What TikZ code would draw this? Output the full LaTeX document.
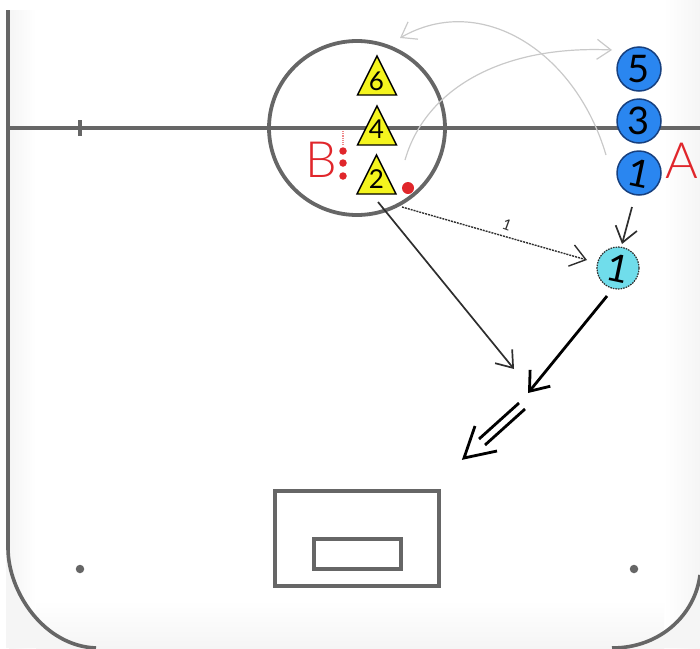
\documentclass[tikz,border=0pt]{standalone}
\usepackage{fontspec}
\setmainfont{Lato}
\newfontfamily\lightface{Lato Light}
\usetikzlibrary{arrows.meta}
\definecolor{linegray}{HTML}{666666}
\definecolor{arcgray}{HTML}{C9C9C9}
\definecolor{ink}{HTML}{2E2E2E}
\definecolor{hred}{HTML}{E0262B}
\definecolor{pblue}{HTML}{2A86F0}
\definecolor{pedge}{HTML}{17407F}
\definecolor{pcyan}{HTML}{70DDEB}
\definecolor{tyellow}{HTML}{F4F41E}
\definecolor{haze}{HTML}{F5F5F5}
\tikzset{
  rink/.style={draw=linegray,line width=3.6pt},
  goalbox/.style={draw=linegray,line width=3.4pt,inner sep=0pt},
  player/.style={circle,draw=pedge,line width=1.5pt,fill=pblue,minimum size=44pt,inner sep=0pt,text=black},
  skater/.style={circle,draw=ink,dash pattern=on 1.6pt off 1pt,line width=1.2pt,fill=pcyan,minimum size=42pt,inner sep=0pt,text=black},
  tri/.style={draw=black,line width=1.4pt,fill=tyellow,line join=miter},
  trinum/.style={inner sep=0pt,font=\fontsize{26}{26}\selectfont,text=black},
  pnum/.style={font=\fontsize{38}{38}\selectfont},
  hand/.style={inner sep=0pt,text=hred,font=\lightface\fontsize{50}{50}\selectfont},
  puck/.style={circle,fill=hred,inner sep=0pt},
  post/.style={circle,fill=linegray,inner sep=0pt,minimum size=8.5pt},
  skatearc/.style={draw=arcgray,line width=1.2pt,-{Straight Barb[length=14pt,width=20pt,line width=1.2pt]}},
  pass/.style={draw=ink,line width=1.7pt,-{Straight Barb[length=15pt,width=22pt]}},
  dotpass/.style={draw=ink,line width=1.4pt,dash pattern=on 2pt off 1pt,-{Straight Barb[length=15pt,width=22pt,line width=1.4pt]}},
  shot/.style={draw=black,line width=2.8pt,-{Straight Barb[length=17pt,width=26pt]}},
  shotline/.style={draw=black,line width=2.8pt,line join=miter},
}
\begin{document}
\begin{tikzpicture}[x=1pt,y=-1pt]
\useasboundingbox (0,0) rectangle (700,648);
% faint haze at the rink edges
\shade[left color=haze,right color=white] (9,10) rectangle (36,648);
\shade[left color=white,right color=haze] (664,0) rectangle (700,648);
\shade[top color=white,bottom color=haze] (36,600) rectangle (664,648);
\fill[haze] (8,548) .. controls (8,592) and (44,646) .. (96,648) -- (6,648) -- (6,548) -- cycle;
\fill[haze] (612,648) .. controls (660,648) and (695,615) .. (700,575) -- (700,648) -- cycle;

% rink
\coordinate (rinktop) at (8,10);
\coordinate (rinkl) at (8,548);
\coordinate (rinkb) at (96,648);
\coordinate (rinkbr) at (612,648);
\coordinate (rinkr) at (700,575);
\coordinate (blueL) at (8,128);
\coordinate (blueR) at (700,128);
\coordinate (tickT) at (80,120);
\coordinate (tickB) at (80,136);
\draw[rink] (rinktop) -- (rinkl) .. controls (8,592) and (44,646) .. (rinkb);
\draw[rink] (rinkbr) .. controls (660,648) and (695,615) .. (rinkr);
\draw[rink] (blueL) -- (blueR);
\draw[rink] (tickT) -- (tickB);
\draw[linegray,line width=3.8pt] (357,128) ellipse[x radius=88,y radius=87];
\node[post] (fl) at (80,569) {};
\node[post] (fr) at (634,569) {};

% goal
\node[goalbox,minimum width=164pt,minimum height=95pt] (crease) at (357,538.5) {};
\node[goalbox,minimum width=87pt,minimum height=30pt] (net) at (357.5,554) {};

% triangles
\draw[tri] (377,56) -- (396.5,95) -- (357.5,95) -- cycle;
\draw[tri] (377,106) -- (396.5,145) -- (357.5,145) -- cycle;
\draw[tri] (376.5,155) -- (396,194) -- (357,194) -- cycle;
\node[trinum] (t6) at (376.5,81) {6};
\node[trinum] (t4) at (376.5,129) {4};
\node[trinum] (t2) at (376.5,179) {2};

% players
\node[player,pnum] (p5) at (639,69) {5};
\node[player,pnum] (p3) at (639,121) {3};
\node[player,pnum] (p1) at (639,173) {\rotatebox{-12}{1}};
\node[skater,pnum] (s1) at (618,268) {\rotatebox{-12}{1}};

% labels and pucks
\node[hand] (A) at (682,161) {A};
\node[hand] (B) at (321,160) {B};
\node[puck,minimum size=7.5pt] (d1) at (343,151) {};
\node[puck,minimum size=7.5pt] (d2) at (343,163) {};
\node[puck,minimum size=7.5pt] (d3) at (343,176) {};
\node[puck,minimum size=12pt] (ball) at (408,188) {};
\coordinate (dotT) at (343,131);
\coordinate (dotB) at (343,145);
\draw[hred!55,line width=1.2pt,densely dotted] (dotT) -- (dotB);

% skating arcs
\coordinate (a1s) at (606,155);
\coordinate (a1e) at (400,38);
\coordinate (a2s) at (405,160);
\coordinate (a2e) at (612,50);
\draw[skatearc] (a1s) .. controls (575,50) and (480,-8) .. (a1e);
\draw[skatearc] (a2s) .. controls (425,90) and (500,45) .. (a2e);

% passes and shot
\coordinate (q1s) at (378,202);
\coordinate (q1e) at (514,369);
\coordinate (q2s) at (402,207);
\coordinate (q2e) at (587,260);
\coordinate (q3s) at (632,207);
\coordinate (q3e) at (622,244);
\coordinate (q4s) at (607,296);
\coordinate (q4e) at (528,393);
\draw[pass] (q1s) -- (q1e);
\draw[dotpass] (q2s) -- (q2e);
\draw[pass] (q3s) -- (q3e);
\draw[shot] (q4s) -- (q4e);
\node[inner sep=0pt,text=ink,font=\fontsize{15}{15}\selectfont,rotate=-20] (lab) at (507,225) {1};
\coordinate (w1s) at (519,403);
\coordinate (w1e) at (479,439);
\coordinate (w2s) at (525,409);
\coordinate (w2e) at (485,445);
\coordinate (wtip) at (464,458);
\coordinate (wb1) at (475,426);
\coordinate (wb2) at (497,451);
\draw[shotline] (w1s) -- (w1e);
\draw[shotline] (w2s) -- (w2e);
\draw[shotline] (wb1) -- (wtip) -- (wb2);
\end{tikzpicture}
\end{document}
